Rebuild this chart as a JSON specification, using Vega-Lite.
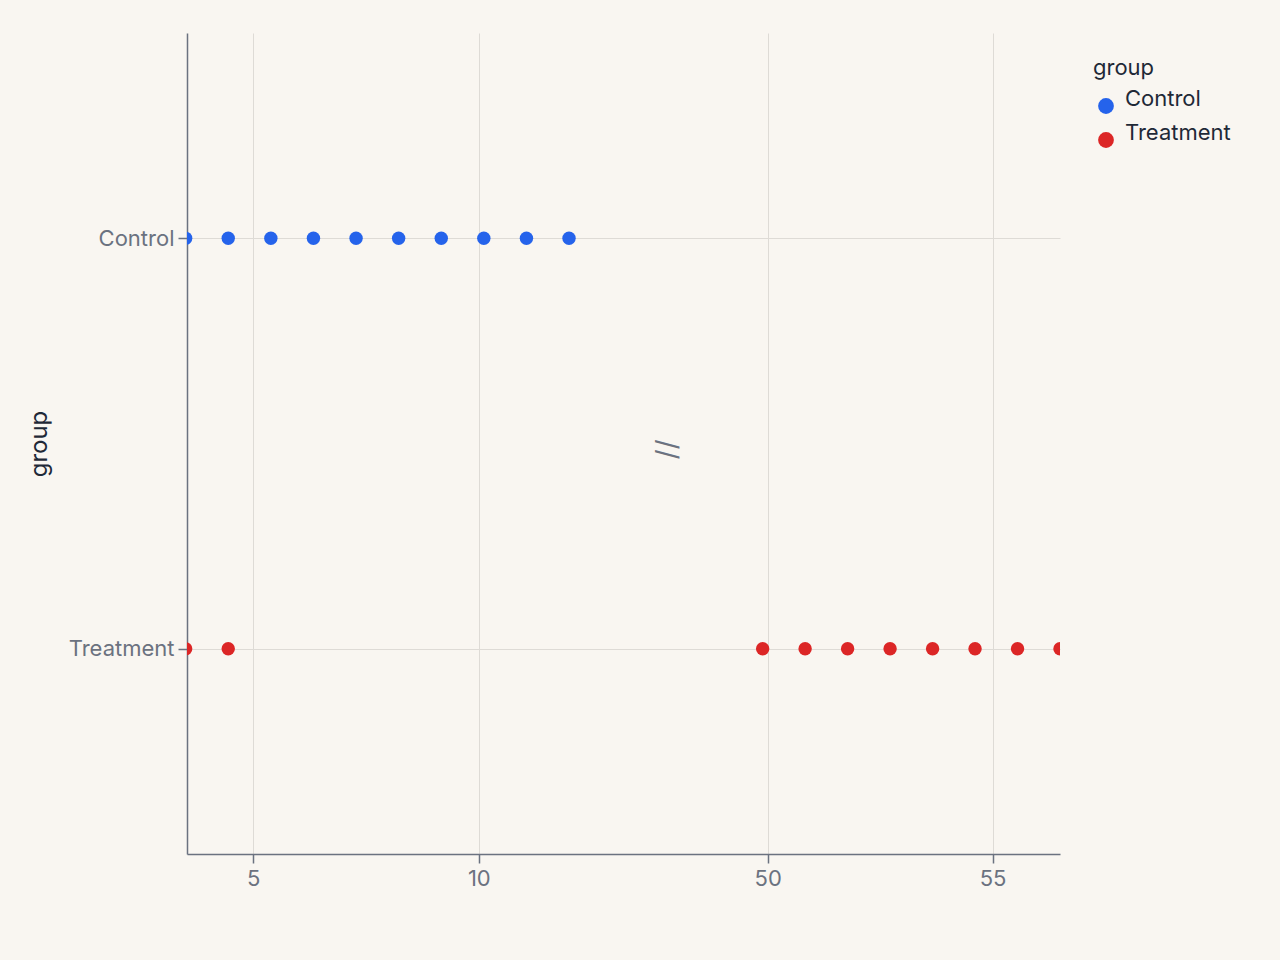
{
  "$schema": "https://vega.github.io/schema/vega-lite/v6.json",
  "width": 873,
  "height": 821,
  "autosize": {"type": "none"},
  "padding": {"left": 187, "top": 33, "right": 220, "bottom": 106},
  "background": "#f9f6f1",
  "config": {
    "view": {"stroke": null},
    "font": "Inter",
    "axis": {
      "gridColor": "#dedbd6",
      "gridWidth": 1,
      "domainColor": "#6b7280",
      "domainWidth": 1.5,
      "tickColor": "#6b7280",
      "tickWidth": 1.5,
      "tickSize": 9,
      "labelColor": "#6b7280",
      "labelFontSize": 22,
      "labelPadding": 4,
      "titleColor": "#1f2937",
      "titleFontSize": 24,
      "titleFontWeight": "normal"
    },
    "legend": {
      "titleColor": "#1f2937",
      "titleFontSize": 22,
      "titleFontWeight": "normal",
      "labelColor": "#1f2937",
      "labelFontSize": 22
    }
  },
  "layer": [
    {
      "data": {
        "values": [
          {"group": "Control", "value": 3.5},
          {"group": "Control", "value": 4.444},
          {"group": "Control", "value": 5.389},
          {"group": "Control", "value": 6.333},
          {"group": "Control", "value": 7.278},
          {"group": "Control", "value": 8.222},
          {"group": "Control", "value": 9.167},
          {"group": "Control", "value": 10.111},
          {"group": "Control", "value": 11.056},
          {"group": "Control", "value": 12.0},
          {"group": "Treatment", "value": 3.5},
          {"group": "Treatment", "value": 4.444},
          {"group": "Treatment", "value": 49.889},
          {"group": "Treatment", "value": 50.833},
          {"group": "Treatment", "value": 51.778},
          {"group": "Treatment", "value": 52.722},
          {"group": "Treatment", "value": 53.667},
          {"group": "Treatment", "value": 54.611},
          {"group": "Treatment", "value": 55.556},
          {"group": "Treatment", "value": 56.5}
        ]
      },
      "mark": {"type": "point", "filled": true, "size": 180, "opacity": 1, "clip": true},
      "encoding": {
        "x": {
          "field": "value",
          "type": "quantitative",
          "scale": {"domain": [3.53, 14.15, 47.74, 56.5], "range": [0, 479, 479, 873], "nice": false, "zero": false},
          "axis": {"values": [5, 10, 50, 55], "title": null, "grid": true, "labelPadding": 5}
        },
        "y": {
          "field": "group",
          "type": "nominal",
          "scale": {"domain": ["Control", "Treatment"]},
          "axis": {"title": "group", "grid": true, "titlePadding": 17}
        },
        "color": {
          "field": "group",
          "type": "nominal",
          "scale": {"domain": ["Control", "Treatment"], "range": ["#2563eb", "#dc2626"]},
          "legend": {
            "orient": "none",
            "legendX": 906,
            "legendY": 25,
            "symbolType": "circle",
            "symbolSize": 250,
            "symbolOpacity": 1,
            "symbolOffset": 2,
            "labelBaseline": "alphabetic",
            "labelOffset": 8,
            "rowPadding": 8,
            "titlePadding": 15
          }
        }
      }
    },
    {
      "data": {"values": [{"label": "//", "xpos": 30, "ypos": 0.493}]},
      "mark": {"type": "text", "angle": 90, "fontSize": 28, "color": "#6b7280", "align": "center", "baseline": "middle"},
      "encoding": {
        "x": {"field": "xpos", "type": "quantitative"},
        "y": {"field": "ypos", "type": "quantitative", "scale": {"domain": [0, 1], "nice": false, "zero": false}, "axis": null},
        "text": {"field": "label"}
      }
    }
  ],
  "resolve": {"scale": {"y": "independent"}}
}
